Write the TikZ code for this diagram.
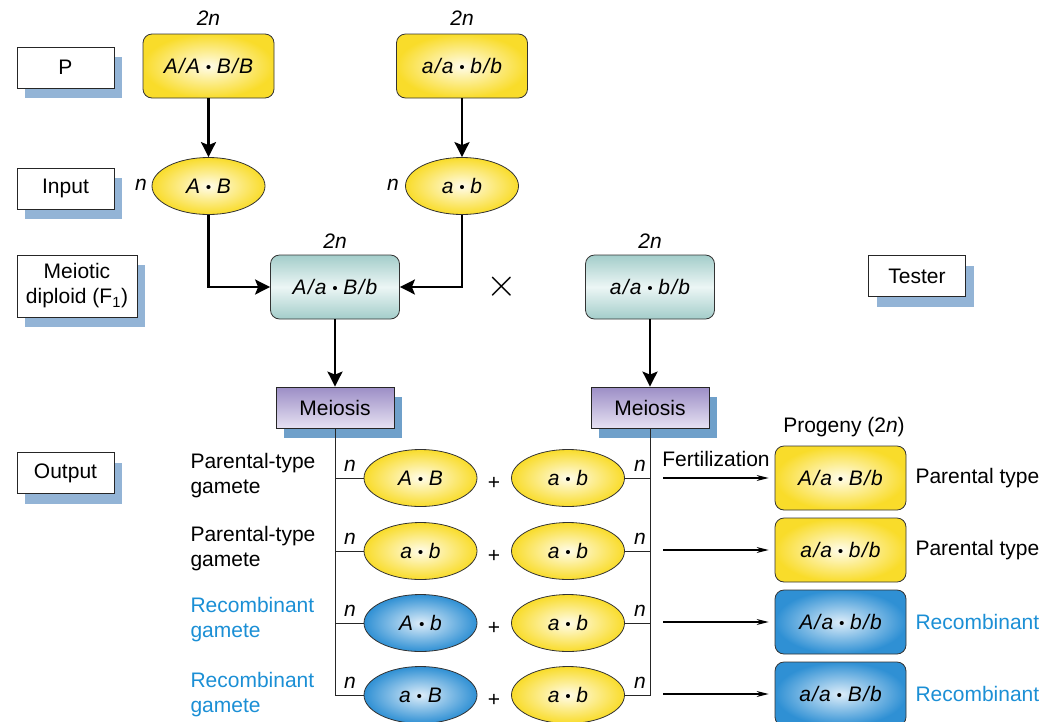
\documentclass[tikz,border=0pt]{standalone}
\usepackage{fontspec}
\setmainfont{Liberation Sans}
\usetikzlibrary{shapes.geometric,arrows.meta,shadows}

\definecolor{shadowblue}{HTML}{93B4D6}
\definecolor{meioshadow}{HTML}{6FA0CA}
\definecolor{yellowin}{HTML}{FFFCEA}
\definecolor{yellowout}{HTML}{F9DC2A}
\definecolor{tealout}{HTML}{A3CDCA}
\definecolor{tealin}{HTML}{ECF6F5}
\definecolor{purpletop}{HTML}{9C8EC6}
\definecolor{purplebot}{HTML}{E6E1F2}
\definecolor{bluein}{HTML}{DDEDF9}
\definecolor{blueout}{HTML}{2F90D4}
\definecolor{rectext}{HTML}{1B8FD5}

\newcommand{\diagfont}{\fontsize{21}{25}\selectfont}
\newcommand{\gslash}{\kern1.2pt/\kern1.2pt}
\newcommand{\gdot}{\ {\fontsize{15}{15}\selectfont\raisebox{1pt}{\textbullet}}\ }

\tikzset{
  labelbox/.style={draw=black!85, fill=white, line width=0.8pt, minimum width=97pt,
    minimum height=41pt, inner sep=2pt, align=center,
    drop shadow={shadow xshift=8pt, shadow yshift=-10pt, fill=shadowblue, opacity=1}},
  genobox/.style={draw=black!80, line width=0.8pt, rounded corners=9pt, minimum width=131pt,
    minimum height=64pt, font=\diagfont\itshape},
  parentbox/.style={genobox, shading=radial, inner color=yellowin, outer color=yellowout},
  hybridbox/.style={genobox, minimum width=129pt, top color=tealout, bottom color=tealout, middle color=tealin},
  recbox/.style={genobox, shading=radial, inner color=bluein, outer color=blueout},
  gamete/.style={ellipse, draw=black!80, line width=0.8pt, minimum width=113pt, minimum height=57pt,
    inner sep=0pt, shading=radial, inner color=yellowin, outer color=yellowout, font=\diagfont\itshape},
  recgamete/.style={gamete, inner color=bluein, outer color=blueout},
  meiobox/.style={draw=black!85, line width=0.8pt, minimum width=118pt, minimum height=41pt,
    top color=purpletop, bottom color=purplebot,
    drop shadow={shadow xshift=8pt, shadow yshift=-10pt, fill=meioshadow, opacity=1}},
  nlab/.style={font=\diagfont\itshape},
  thickarrow/.style={line width=2.2pt, -{Stealth[length=15pt,width=15pt,inset=3pt]}},
  thinline/.style={line width=1pt, black!85},
  fertarrow/.style={line width=1.2pt, -{Stealth[length=12pt,width=6pt]}, shorten >=6pt},
}

\begin{document}
\begin{tikzpicture}[x=1pt,y=-1pt,font=\diagfont]
\useasboundingbox (0,0) rectangle (1047,721);

% row labels
\node[labelbox] (P) at (65.5,67.5) {P};
\node[labelbox] (input) at (65.5,188.5) {Input};
\node[labelbox, minimum width=120pt, minimum height=62pt] (F1lab) at (77,286) {Meiotic\\diploid (F\textsubscript{1})};
\node[labelbox] (output) at (65.5,473) {Output};
\node[labelbox] (tester) at (917,276) {Tester};

% parents
\node[nlab] (pABn) at (208.5,18) {2n};
\node[nlab] (pabn) at (462,18) {2n};
\node[parentbox] (pAB) at (208.5,66) {A\gslash A\gdot B\gslash B};
\node[parentbox] (pab) at (462,66) {a\gslash a\gdot b\gslash b};

% input gametes
\node[gamete] (gAB) at (208.5,186) {A\gdot B};
\node[gamete] (gab) at (462,186) {a\gdot b};
\node[nlab] (gABn) at (141,185) {n};
\node[nlab] (gabn) at (393,185) {n};

% F1 and tester
\node[nlab] (F1n) at (335,241) {2n};
\node[nlab] (testn) at (650,241) {2n};
\node[hybridbox] (F1) at (335,287) {A\gslash a\gdot B\gslash b};
\node[hybridbox] (T) at (650,287) {a\gslash a\gdot b\gslash b};
\node (cross) at (502,287) {\scalebox{1.9}{$\times$}};

\draw[thickarrow] (pAB.south) -- (gAB.north);
\draw[thickarrow] (pab.south) -- (gab.north);
\draw[thickarrow] (gAB.south) |- (F1.west);
\draw[thickarrow] (gab.south) |- (F1.east);

% meiosis
\node[meiobox] (mei1) at (335,407.5) {Meiosis};
\node[meiobox] (mei2) at (650,407.5) {Meiosis};
\draw[thickarrow] (F1.south) -- (mei1.north);
\draw[thickarrow] (T.south) -- (mei2.north);

% output gametes
\node[gamete] (l1) at (420.5,478) {A\gdot B};
\node[gamete] (l2) at (420.5,551) {a\gdot b};
\node[recgamete] (l3) at (420.5,623) {A\gdot b};
\node[recgamete] (l4) at (420.5,695) {a\gdot B};
\node[gamete] (r1) at (568,478) {a\gdot b};
\node[gamete] (r2) at (568,551) {a\gdot b};
\node[gamete] (r3) at (568,623) {a\gdot b};
\node[gamete] (r4) at (568,695) {a\gdot b};
\foreach \r/\y in {1/478,2/551,3/623,4/695} {
  \node (plus\r) at (494,\y+5) {+};
  \node[nlab] (nl\r) at (350,\y-12) {n};
  \node[nlab] (nr\r) at (640,\y-12) {n};
}

\draw[thinline] (mei1.south) -- (mei1.south |- l4.west) -- (l4.west);
\draw[thinline] (mei2.south) -- (mei2.south |- r4.east) -- (r4.east);
\foreach \r in {1,2,3} {
  \draw[thinline] (mei1.south |- l\r.west) -- (l\r.west);
  \draw[thinline] (mei2.south |- r\r.east) -- (r\r.east);
}

\node[anchor=west, align=left] (gl1) at (187,476) {Parental-type\\gamete};
\node[anchor=west, align=left] (gl2) at (187,549) {Parental-type\\gamete};
\node[anchor=west, align=left, text=rectext] (gl3) at (187,620) {Recombinant\\gamete};
\node[anchor=west, align=left, text=rectext] (gl4) at (187,695) {Recombinant\\gamete};

% progeny
\node (proglab) at (844,427) {Progeny (2\textit{n})};
\node[parentbox] (prog1) at (840.5,478) {A\gslash a\gdot B\gslash b};
\node[parentbox] (prog2) at (840.5,550) {a\gslash a\gdot b\gslash b};
\node[recbox] (prog3) at (840.5,622) {A\gslash a\gdot b\gslash b};
\node[recbox] (prog4) at (840.5,694) {a\gslash a\gdot B\gslash b};
\node (fert) at (716,459) {Fertilization};
\foreach \r in {1,2,3,4} {
  \coordinate (f\r) at (663,0 |- prog\r.west);
  \draw[fertarrow] (f\r) -- (prog\r.west);
}
\node[anchor=west] (t1) at (912,478) {Parental type};
\node[anchor=west] (t2) at (912,550) {Parental type};
\node[anchor=west, text=rectext] (t3) at (912,622) {Recombinant};
\node[anchor=west, text=rectext] (t4) at (912,694) {Recombinant};
\end{tikzpicture}
\end{document}
